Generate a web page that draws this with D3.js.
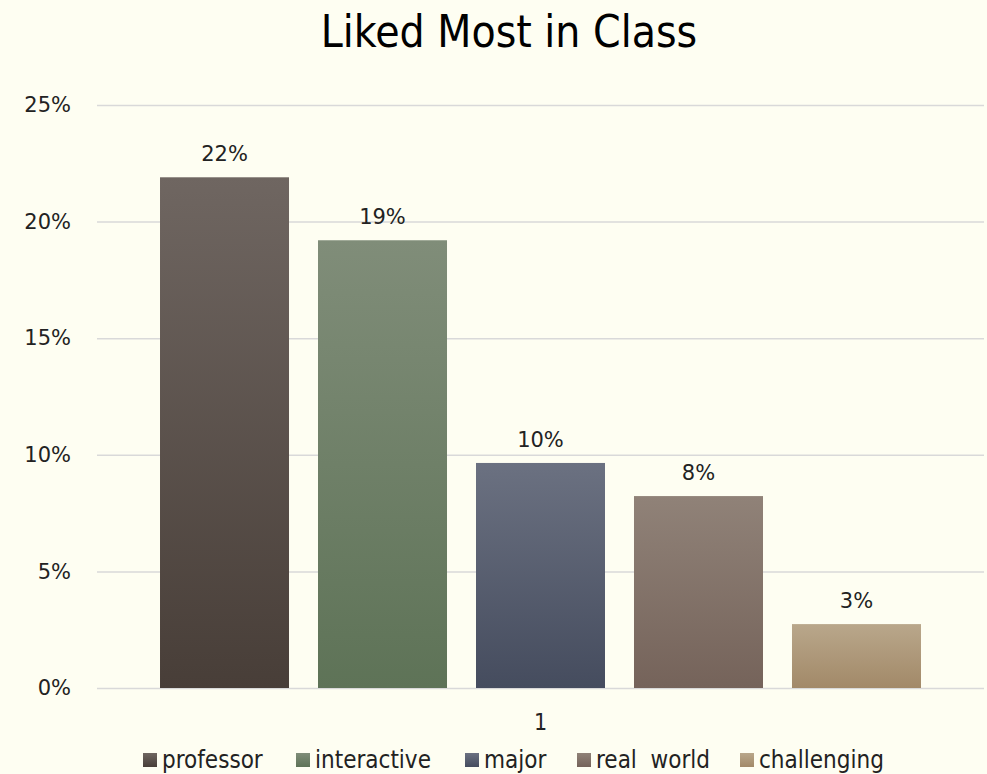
<!DOCTYPE html>
<html>
<head>
<meta charset="utf-8">
<script src="https://cdn.jsdelivr.net/npm/d3@7"></script>
<style>
  html, body { margin: 0; padding: 0; background: #fefef2; }
  svg { display: block; }
</style>
</head>
<body>
<svg id="chart" width="987" height="774"></svg>
<script>
// data
const categories = ["1"];
const seriesNames = ["professor", "interactive", "major", "real  world", "challenging"];
const seriesValues = [0.219, 0.192, 0.0965, 0.0823, 0.0274];
const yTicks = [0, 0.05, 0.10, 0.15, 0.20, 0.25];
const colorsTop = ["#6f6661", "#808d79", "#6b7181", "#908278", "#b9a78b"];
const colorsBottom = ["#483e38", "#5e7357", "#454c5e", "#75635a", "#a28968"];

const svg = d3.select("#chart");
const width = +svg.attr("width");
const height = +svg.attr("height");
const margin = { top: 105, right: 3, bottom: 86, left: 97 };
const plotW = width - margin.left - margin.right;
const plotH = height - margin.top - margin.bottom;

svg.append("rect").attr("width", width).attr("height", height).attr("fill", "#fefef2");

// gradients for bars
const defs = svg.append("defs");
seriesNames.forEach(function (s, i) {
  const g = defs.append("linearGradient")
    .attr("id", "grad" + i)
    .attr("x1", 0).attr("y1", 0).attr("x2", 0).attr("y2", 1);
  g.append("stop").attr("offset", "0%").attr("stop-color", colorsTop[i]);
  g.append("stop").attr("offset", "100%").attr("stop-color", colorsBottom[i]);
});

const g = svg.append("g")
  .attr("transform", "translate(" + margin.left + "," + margin.top + ")");

const x0 = d3.scaleBand().domain(categories).range([0, plotW]).paddingInner(0).paddingOuter(0.0828);
const x1 = d3.scaleBand().domain(seriesNames).range([0, x0.bandwidth()]).paddingInner(0.1835).paddingOuter(0);
const y = d3.scaleLinear().domain([0, 0.25]).range([plotH, 0]);

// gridlines + y labels
const yAxis = g.append("g")
  .call(d3.axisLeft(y).tickValues(yTicks).tickSize(-plotW).tickFormat(d3.format(".0%")));
yAxis.select(".domain").remove();
yAxis.selectAll(".tick line").attr("stroke", "#d9d9d9").attr("stroke-width", 1.5);
yAxis.selectAll(".tick text")
  .attr("x", -26)
  .attr("fill", "#222")
  .style("font-family", "DejaVu Sans")
  .style("font-size", "21px");

// bars
const group = g.selectAll(".cat")
  .data(categories)
  .enter()
  .append("g")
  .attr("transform", function (d) { return "translate(" + x0(d) + ",0)"; });

group.selectAll("rect")
  .data(seriesNames.map(function (s, i) { return { name: s, value: seriesValues[i], i: i }; }))
  .enter()
  .append("rect")
  .attr("x", function (d) { return x1(d.name); })
  .attr("y", function (d) { return y(d.value); })
  .attr("width", x1.bandwidth())
  .attr("height", function (d) { return plotH - y(d.value); })
  .attr("fill", function (d) { return "url(#grad" + d.i + ")"; });

// value labels
group.selectAll("text.val")
  .data(seriesNames.map(function (s, i) { return { name: s, value: seriesValues[i] }; }))
  .enter()
  .append("text")
  .attr("class", "val")
  .attr("x", function (d) { return x1(d.name) + x1.bandwidth() / 2; })
  .attr("y", function (d) { return y(d.value) - 16; })
  .attr("text-anchor", "middle")
  .attr("fill", "#222")
  .style("font-family", "DejaVu Sans")
  .style("font-size", "21px")
  .text(function (d) { return d3.format(".0%")(d.value); });

// category axis label
const xAxis = g.append("g")
  .attr("transform", "translate(0," + plotH + ")")
  .call(d3.axisBottom(x0).tickSize(0).tickPadding(0));
xAxis.select(".domain").remove();
xAxis.selectAll(".tick text")
  .attr("y", 42)
  .attr("dy", 0)
  .attr("fill", "#222")
  .style("font-family", "DejaVu Sans Condensed")
  .style("font-size", "23px");

// title
svg.append("text")
  .attr("x", 509)
  .attr("y", 47)
  .attr("text-anchor", "middle")
  .attr("fill", "#000")
  .style("font-family", "DejaVu Sans Condensed")
  .style("font-size", "44px")
  .text("Liked Most in Class");

// legend
const legendX = [143, 296, 465, 577, 740];
const legend = svg.append("g");
seriesNames.forEach(function (s, i) {
  const item = legend.append("g").attr("transform", "translate(" + legendX[i] + ",753)");
  item.append("rect").attr("width", 14).attr("height", 14).attr("y", 0)
    .attr("fill", "url(#grad" + i + ")");
  item.append("text")
    .attr("x", 19).attr("y", 15)
    .attr("fill", "#222")
    .style("font-family", "DejaVu Sans Condensed")
    .style("font-size", "24px")
    .style("white-space", "pre")
    .attr("xml:space", "preserve")
    .text(s);
});
</script>
</body>
</html>
